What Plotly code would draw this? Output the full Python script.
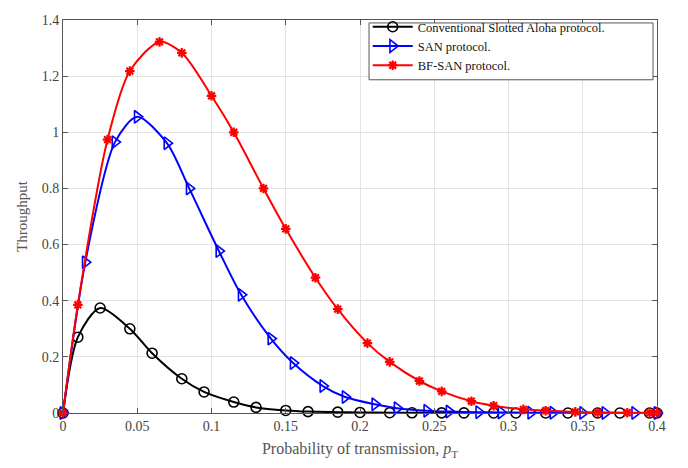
import plotly.graph_objects as go

# Conventional Slotted Aloha protocol
aloha_x = [0, 0.01, 0.025, 0.045, 0.06, 0.08, 0.095, 0.115, 0.13, 0.15, 0.165, 0.185, 0.2,
           0.22, 0.235, 0.255, 0.27, 0.29, 0.305, 0.325, 0.34, 0.36, 0.375, 0.395, 0.4]
aloha_y = [0, 0.27, 0.374, 0.30, 0.213, 0.122, 0.075, 0.039, 0.02, 0.009, 0.005, 0.003, 0.002,
           0.001, 0.0007, 0.0004, 0.0003, 0.0002, 0.0001, 0.0001, 0, 0, 0, 0, 0]

# SAN protocol
san_x = [0, 0.015, 0.035, 0.05, 0.07, 0.085, 0.105, 0.12, 0.14, 0.155, 0.175, 0.19, 0.21,
         0.225, 0.245, 0.26, 0.28, 0.295, 0.315, 0.33, 0.35, 0.365, 0.385, 0.4]
san_y = [0, 0.537, 0.965, 1.055, 0.961, 0.80, 0.577, 0.421, 0.265, 0.178, 0.096, 0.057, 0.031,
         0.017, 0.008, 0.005, 0.003, 0.002, 0.001, 0.0007, 0.0004, 0.0002, 0.0001, 0]

# BF-SAN protocol
bf_x = [0, 0.01, 0.03, 0.045, 0.065, 0.08, 0.1, 0.115, 0.135, 0.15, 0.17, 0.185, 0.205,
        0.22, 0.24, 0.255, 0.275, 0.29, 0.31, 0.325, 0.345, 0.36, 0.38, 0.395, 0.4]
bf_y = [0, 0.385, 0.974, 1.218, 1.322, 1.283, 1.13, 1.0, 0.80, 0.656, 0.482, 0.37, 0.249,
        0.182, 0.114, 0.077, 0.042, 0.026, 0.013, 0.008, 0.004, 0.002, 0.001, 0.0005, 0.0004]

x_ticks = [0, 0.05, 0.1, 0.15, 0.2, 0.25, 0.3, 0.35, 0.4]
x_labels = ["0", "0.05", "0.1", "0.15", "0.2", "0.25", "0.3", "0.35", "0.4"]
y_ticks = [0, 0.2, 0.4, 0.6, 0.8, 1.0, 1.2, 1.4]
y_labels = ["0", "0.2", "0.4", "0.6", "0.8", "1", "1.2", "1.4"]

fig = go.Figure()
fig.add_trace(go.Scatter(
    x=aloha_x, y=aloha_y, mode="lines+markers", name="Conventional Slotted Aloha protocol.",
    line=dict(color="black", width=2, shape="spline", smoothing=0.8),
    marker=dict(symbol="circle-open", size=10, color="black", line=dict(width=1.6)),
    cliponaxis=False))
fig.add_trace(go.Scatter(
    x=san_x, y=san_y, mode="lines+markers", name="SAN protocol.",
    line=dict(color="#0000ff", width=2, shape="spline", smoothing=0.8),
    marker=dict(symbol="triangle-right-open", size=11, color="#0000ff", line=dict(width=1.6)),
    cliponaxis=False))
fig.add_trace(go.Scatter(
    x=bf_x, y=bf_y, mode="lines+markers", name="BF-SAN protocol.",
    line=dict(color="#ff0000", width=2, shape="spline", smoothing=0.8),
    marker=dict(symbol="asterisk-open", size=8, color="#ff0000", line=dict(width=2.2, color="#ff0000")),
    cliponaxis=False))

axis_common = dict(
    showgrid=True, gridcolor="#e3e3e3", gridwidth=1,
    showline=True, linecolor="#555555", linewidth=1, mirror="ticks",
    ticks="inside", ticklen=5, tickcolor="#555555",
    zeroline=False,
    tickfont=dict(family="Liberation Serif", size=14, color="#444444"),
)

fig.update_layout(
    width=688, height=468,
    margin=dict(l=63, r=31, t=12, b=55),
    paper_bgcolor="white", plot_bgcolor="white",
    font=dict(family="Liberation Serif", color="#444444"),
    xaxis=dict(range=[0, 0.4], tickvals=x_ticks, ticktext=x_labels,
               title=dict(text="Probability of transmission, <i>p</i><sub>T</sub>",
                          font=dict(family="Liberation Serif", size=16, color="#555555"),
                          standoff=10),
               **axis_common),
    yaxis=dict(range=[0, 1.4], tickvals=y_ticks, ticktext=y_labels,
               title=dict(text="Throughput",
                          font=dict(family="Liberation Serif", size=15, color="#555555"),
                          standoff=10),
               **axis_common),
    legend=dict(x=0.513, y=1.02, xanchor="left", yanchor="top",
                bgcolor="rgba(0,0,0,0)", borderwidth=0,
                font=dict(family="Liberation Serif", size=12.5, color="#111111"),
                tracegroupgap=0, itemwidth=40),
    showlegend=True,
    shapes=[dict(type="rect", xref="paper", yref="paper",
                 x0=0.5152, x1=0.9933, y0=0.8479, y1=0.9925,
                 line=dict(color="#555555", width=1), fillcolor="white", layer="above")],
)

fig.write_html("out.html")
